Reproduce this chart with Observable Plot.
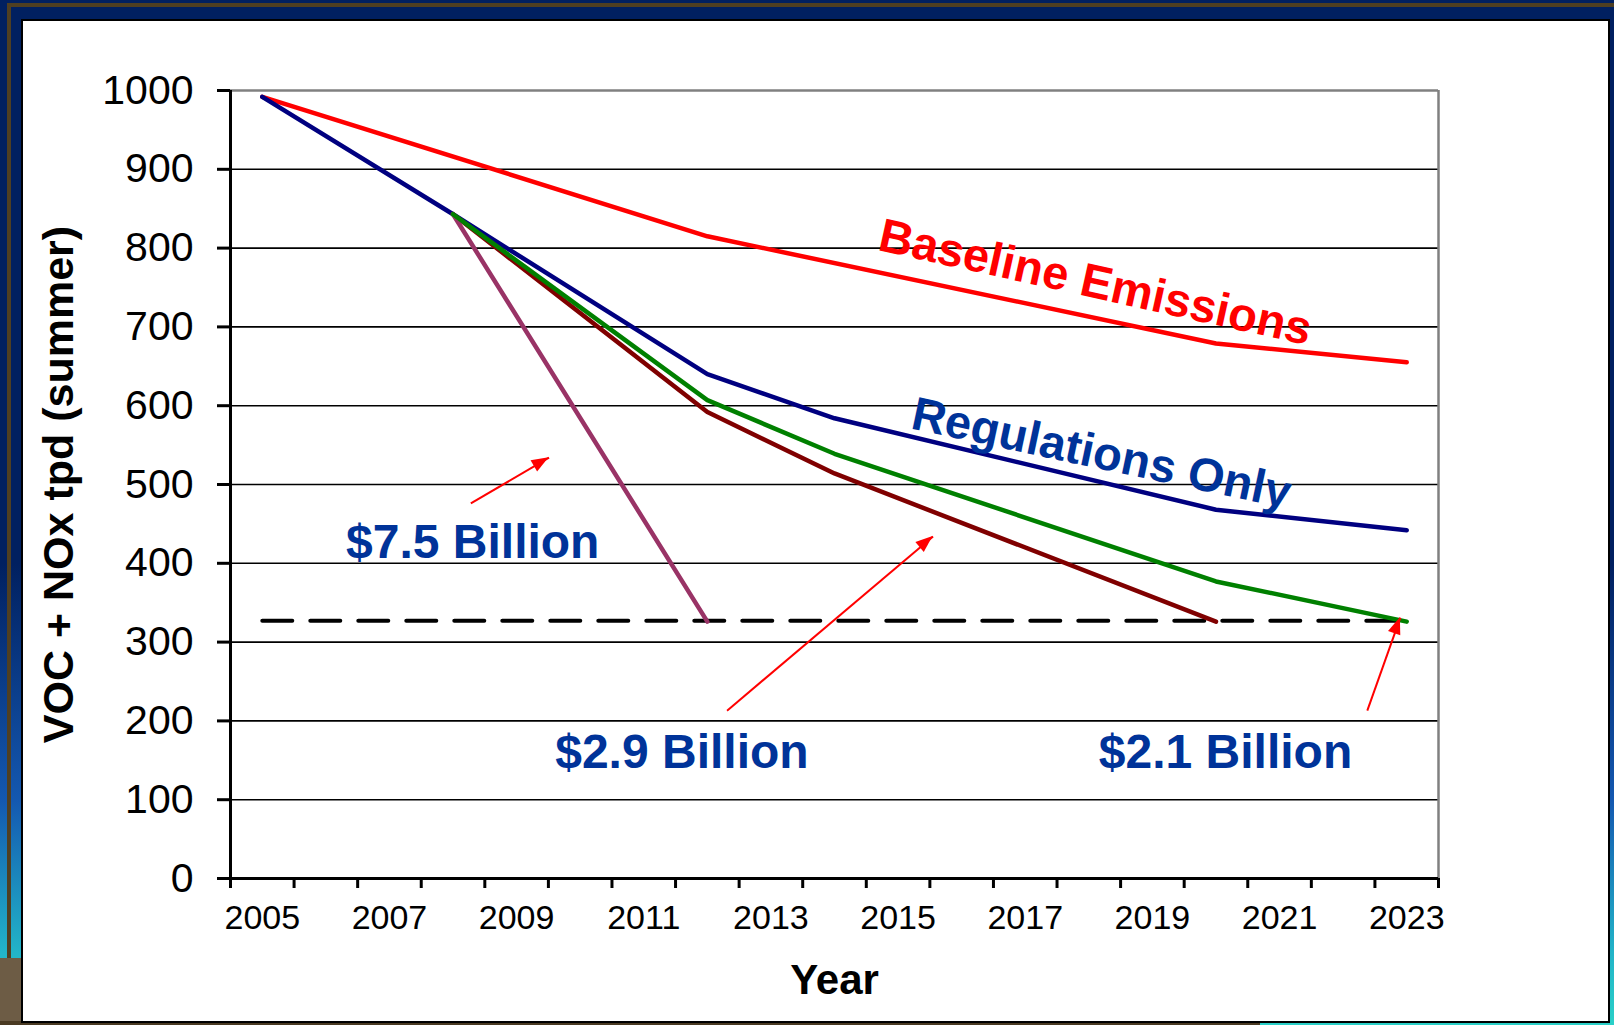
<!DOCTYPE html>
<html>
<head>
<meta charset="utf-8">
<script src="https://cdn.jsdelivr.net/npm/d3@7"></script>
<script src="https://cdn.jsdelivr.net/npm/@observablehq/plot@0.6"></script>
<style>
  html, body { margin: 0; padding: 0; }
  body {
    width: 1614px; height: 1025px; overflow: hidden; position: relative;
    background: linear-gradient(180deg, #012060 0%, #012060 55%, #1458b0 78%, #22b4c8 93%, #2ad0c8 100%);
    font-family: "Liberation Sans", Arial, sans-serif;
  }
  .stripe-top { position: absolute; left: 7px; top: 3px; width: 1607px; height: 4px; background: #4f3f22; }
  .stripe-left { position: absolute; left: 7px; top: 3px; width: 4px; height: 1022px; background: #4f3f22; }
  .rock { position: absolute; left: 0; top: 958px; width: 24px; height: 67px; background: #6d5c45; }
  .rock-bottom { position: absolute; left: 0; top: 1021px; width: 1260px; height: 4px; background: #4a3a22; }
  .panel { position: absolute; left: 21px; top: 19px; width: 1589px; height: 1004px; box-sizing: border-box;
           border: 2.5px solid #000; background: #fff; }
  #chart { position: absolute; left: 0; top: 0; }
</style>
</head>
<body>
<div class="stripe-top"></div>
<div class="stripe-left"></div>
<div class="rock"></div>
<div class="rock-bottom"></div>
<div class="panel"></div>
<div id="chart"></div>
<script>
// ---- data ----
const baselineYears = [2005, 2012, 2020, 2023];
const baselineValues = [992, 815, 679, 655];

const regulationsYears = [2005, 2008, 2012, 2014, 2020, 2023];
const regulationsValues = [992, 843, 640, 584, 468, 442];

const plan21Years = [2008, 2012, 2014, 2020, 2023];
const plan21Values = [843, 607, 539, 377, 326];

const plan29Years = [2008, 2012, 2014, 2020];
const plan29Values = [843, 592, 514, 326];

const plan75Years = [2008, 2012];
const plan75Values = [843, 326];

const targetYears = [2005, 2023];
const targetValue = 327;

const yTicks = [0, 100, 200, 300, 400, 500, 600, 700, 800, 900, 1000];
const xLabelYears = [2005, 2007, 2009, 2011, 2013, 2015, 2017, 2019, 2021, 2023];
const xBoundaries = d3.range(2004.5, 2024, 1);

const yTitle = "VOC + NOx tpd (summer)";
const xTitle = "Year";

const seriesLabels = ["Baseline Emissions", "Regulations Only"];
const seriesLabelX = [2018.1, 2018.2];
const seriesLabelY = [756, 539];
const seriesLabelAngle = [12.5, 12];
const seriesLabelColor = ["#ff0000", "#003399"];

const costLabels = ["$7.5 Billion", "$2.9 Billion", "$2.1 Billion"];
const costLabelX = [2008.31, 2011.6, 2020.15];
const costLabelY = [426, 160, 160];

const arrowX1 = [2008.28, 2012.31, 2022.38];
const arrowY1 = [476, 213, 213];
const arrowX2 = [2009.51, 2015.55, 2022.9];
const arrowY2 = [534, 434, 331];

// ---- build tables ----
const toRows = (xs, vs) => xs.map((x, i) => ({x, y: vs[i]}));
const baseline = toRows(baselineYears, baselineValues);
const regulations = toRows(regulationsYears, regulationsValues);
const plan21 = toRows(plan21Years, plan21Values);
const plan29 = toRows(plan29Years, plan29Values);
const plan75 = toRows(plan75Years, plan75Values);
const target = targetYears.map(x => ({x, y: targetValue}));
const seriesText = seriesLabels.map((t, i) => ({t, x: seriesLabelX[i], y: seriesLabelY[i], a: seriesLabelAngle[i], c: seriesLabelColor[i]}));
const costText = costLabels.map((t, i) => ({t, x: costLabelX[i], y: costLabelY[i]}));
const arrows = arrowX1.map((x1, i) => ({x1, y1: arrowY1[i], x2: arrowX2[i], y2: arrowY2[i]}));

const lineOpts = {x: "x", y: "y", strokeWidth: 4.5, strokeLinejoin: "round", strokeLinecap: "round"};

// filled triangular arrow heads, placed through the plot's own scales
function arrowHeads(index, scales) {
  const sx = scales.x, sy = scales.y;
  const g = d3.create("svg:g");
  for (const a of arrows) {
    const x1 = sx(a.x1), y1 = sy(a.y1), x2 = sx(a.x2), y2 = sy(a.y2);
    const ang = Math.atan2(y2 - y1, x2 - x1);
    const L = 17, W = 6.5;
    const bx = x2 - L * Math.cos(ang), by = y2 - L * Math.sin(ang);
    const px = -Math.sin(ang) * W, py = Math.cos(ang) * W;
    g.append("polygon")
      .attr("points", `${x2},${y2} ${bx + px},${by + py} ${bx - px},${by - py}`)
      .attr("fill", "#ff0000");
  }
  return g.node();
}

const chart = Plot.plot({
  width: 1614,
  height: 1025,
  marginLeft: 230,
  marginRight: 176,
  marginTop: 90,
  marginBottom: 147,
  x: {domain: [2004.5, 2023.5]},
  y: {domain: [0, 1000]},
  style: {background: "transparent", fontFamily: "'Liberation Sans', Arial, sans-serif", color: "black", overflow: "visible"},
  marks: [
    Plot.gridY(yTicks.filter(d => d > 0 && d < 1000), {stroke: "#000", strokeOpacity: 1, strokeWidth: 1.6}),
    Plot.ruleY([1000], {stroke: "#808080", strokeWidth: 2.5}),
    Plot.ruleX([2023.5], {stroke: "#808080", strokeWidth: 2.5}),
    Plot.axisY({ticks: yTicks, tickSize: 13, tickPadding: 24, fontSize: 41, strokeWidth: 3, tickFormat: d => String(d), label: null}),
    Plot.axisX({ticks: xBoundaries, tickSize: 10, strokeWidth: 3, tickFormat: () => "", label: null}),
    Plot.axisX({ticks: xLabelYears, tickSize: 0, tickPadding: 26, fontSize: 34, tickFormat: d => String(d), label: null}),
    Plot.ruleX([2004.5], {stroke: "#000", strokeWidth: 3}),
    Plot.ruleY([0], {stroke: "#000", strokeWidth: 3}),
    Plot.line(target, {x: "x", y: "y", stroke: "#000", strokeWidth: 4, strokeDasharray: "30,18"}),
    Plot.line(baseline, {...lineOpts, stroke: "#ff0000"}),
    Plot.line(regulations, {...lineOpts, stroke: "#000080"}),
    Plot.line(plan29, {...lineOpts, stroke: "#800000"}),
    Plot.line(plan75, {...lineOpts, stroke: "#993366"}),
    Plot.line(plan21, {...lineOpts, stroke: "#008000"}),
    Plot.link(arrows, {x1: "x1", y1: "y1", x2: "x2", y2: "y2", stroke: "#ff0000", strokeWidth: 2}),
    arrowHeads,
    Plot.text(seriesText, {x: "x", y: "y", text: "t", rotate: "a", fill: "c", fontSize: 47, fontWeight: "bold"}),
    Plot.text(costText, {x: "x", y: "y", text: "t", fill: "#003399", fontSize: 48, fontWeight: "bold"}),
    Plot.text([yTitle], {frameAnchor: "left", dx: -171, rotate: -90, textAnchor: "middle", lineAnchor: "middle", fontSize: 43, fontWeight: "bold", fill: "#000"}),
    Plot.text([xTitle], {frameAnchor: "bottom", dy: 102, textAnchor: "middle", lineAnchor: "middle", fontSize: 42, fontWeight: "bold", fill: "#000"})
  ]
});
document.getElementById("chart").appendChild(chart);
</script>
</body>
</html>
